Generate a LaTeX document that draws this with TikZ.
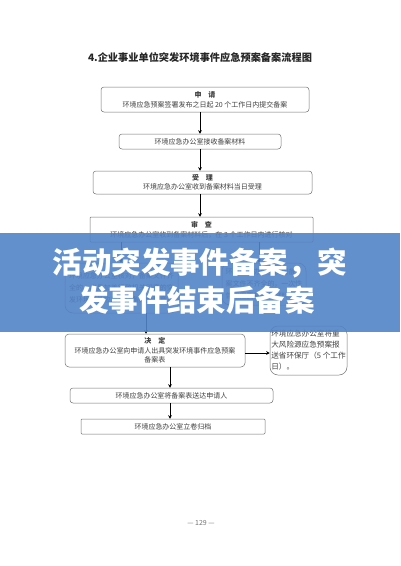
\documentclass[tikz,border=0pt]{standalone}
\usepackage{fontspec}
\setmainfont{Noto Sans CJK SC}
\usetikzlibrary{arrows.meta}
\definecolor{bannerblue}{RGB}{82,132,199}
\tikzset{
  box/.style={draw=black!55, line width=0.5pt, rounded corners=3pt, fill=white, inner sep=0pt, text=black!75, align=center},
  bigbox/.style={box, rounded corners=8pt},
  arr/.style={draw=black, line width=0.8pt, -{Stealth[length=3.5pt,width=3.5pt]}},
  txt/.style={font=\fontsize{7}{10}\selectfont},
  bannertxt/.style={font=\fontsize{29.5}{34}\selectfont\bfseries, text=white},
}
\begin{document}
\begin{tikzpicture}[x=1pt,y=-1pt]
\useasboundingbox (0,0) rectangle (400,566);
\fill[white] (0,0) rectangle (400,566);
% title
\node[font=\fontsize{10.2}{12}\selectfont\bfseries, text=black!85] (title) at (200,58) {4.企业事业单位突发环境事件应急预案备案流程图};
% boxes
\node[box, minimum width=208pt, minimum height=25pt, txt] (b1) at (205,99.5) {\textbf{申\quad 请}\\环境应急预案签署发布之日起 20 个工作日内提交备案};
\node[box, minimum width=162pt, minimum height=15pt, txt] (b2) at (200,141.5) {环境应急办公室接收备案材料};
\node[box, minimum width=219pt, minimum height=23pt, txt, font=\fontsize{7}{9.5}\selectfont] (b3) at (202.5,182.5) {\textbf{受\quad 理}\\环境应急办公室收到备案材料当日受理};
\node[box, rounded corners=1pt, minimum width=223pt, minimum height=25pt, txt] (b4) at (201.5,229.5) {\textbf{审\quad 查}\\环境应急办公室收到备案材料后，在 3 个工作日内进行核对};
\node[bigbox, minimum width=113pt, minimum height=50pt, font=\fontsize{7}{12}\selectfont, align=left] (b5) at (121.5,288) {环境应急办公室核对，备案文件齐\\全的，出具加盖行政机关印章的突\\发环境事件应急预案备案受理意见};
\node[bigbox, minimum width=84pt, minimum height=42pt, font=\fontsize{7}{12}\selectfont, align=left] (b6) at (264,284) {环境应急办公室发现备\\案文件不齐全的，一次性\\告知需要补齐的材料。};
\node[box, rounded corners=4pt, minimum width=180pt, minimum height=33pt, font=\fontsize{7}{9.5}\selectfont] (b7) at (155,350.5) {\textbf{决\quad 定}\\环境应急办公室向申请人出具突发环境事件应急预案\\备案表};
\node[bigbox, minimum width=77pt, minimum height=49pt, font=\fontsize{7.6}{11}\selectfont, align=left] (b8) at (308.5,350.5) {环境应急办公室将重\\大风险源应急预案报\\送省环保厅（5 个工作\\日）。};
\node[box, minimum width=203pt, minimum height=15pt, txt] (b9) at (171.5,395.5) {环境应急办公室将备案表送达申请人};
\node[box, minimum width=184pt, minimum height=15pt, txt, rounded corners=1pt] (b10) at (173,426.5) {环境应急办公室立卷归档};
% arrow columns
\coordinate (cx) at (200,0);
\coordinate (lx) at (121,0);
\coordinate (rx) at (259,0);
\coordinate (mx) at (146,0);
\coordinate (dx) at (170,0);
\coordinate (hy) at (0,353);
\draw[arr] (b1.south -| cx) -- (b2.north -| cx);
\draw[arr] (b2.south -| cx) -- (b3.north -| cx);
\draw[arr] (b3.south -| cx) -- (b4.north -| cx);
\draw[arr] (b4.south -| lx) -- (b5.north -| lx);
\draw[arr] (b4.south -| rx) -- (b6.north -| rx);
\draw[arr] (b5.south -| mx) -- (b7.north -| mx);
\draw[arr] (b7.east |- hy) -- (b8.west |- hy);
\draw[arr] (b7.south -| dx) -- (b9.north -| dx);
\draw[arr] (b9.south -| dx) -- (b10.north -| dx);
% footer
\node[font=\fontsize{7}{8}\selectfont, text=black!55] (foot) at (201,523) {— 129 —};
% banner
\fill[bannerblue, opacity=0.9] (0,233) rectangle (400,332);
\node[bannertxt] (t1) at (200,263) {活动突发事件备案，突};
\node[bannertxt] (t2) at (197,300) {发事件结束后备案};
\end{tikzpicture}
\end{document}
